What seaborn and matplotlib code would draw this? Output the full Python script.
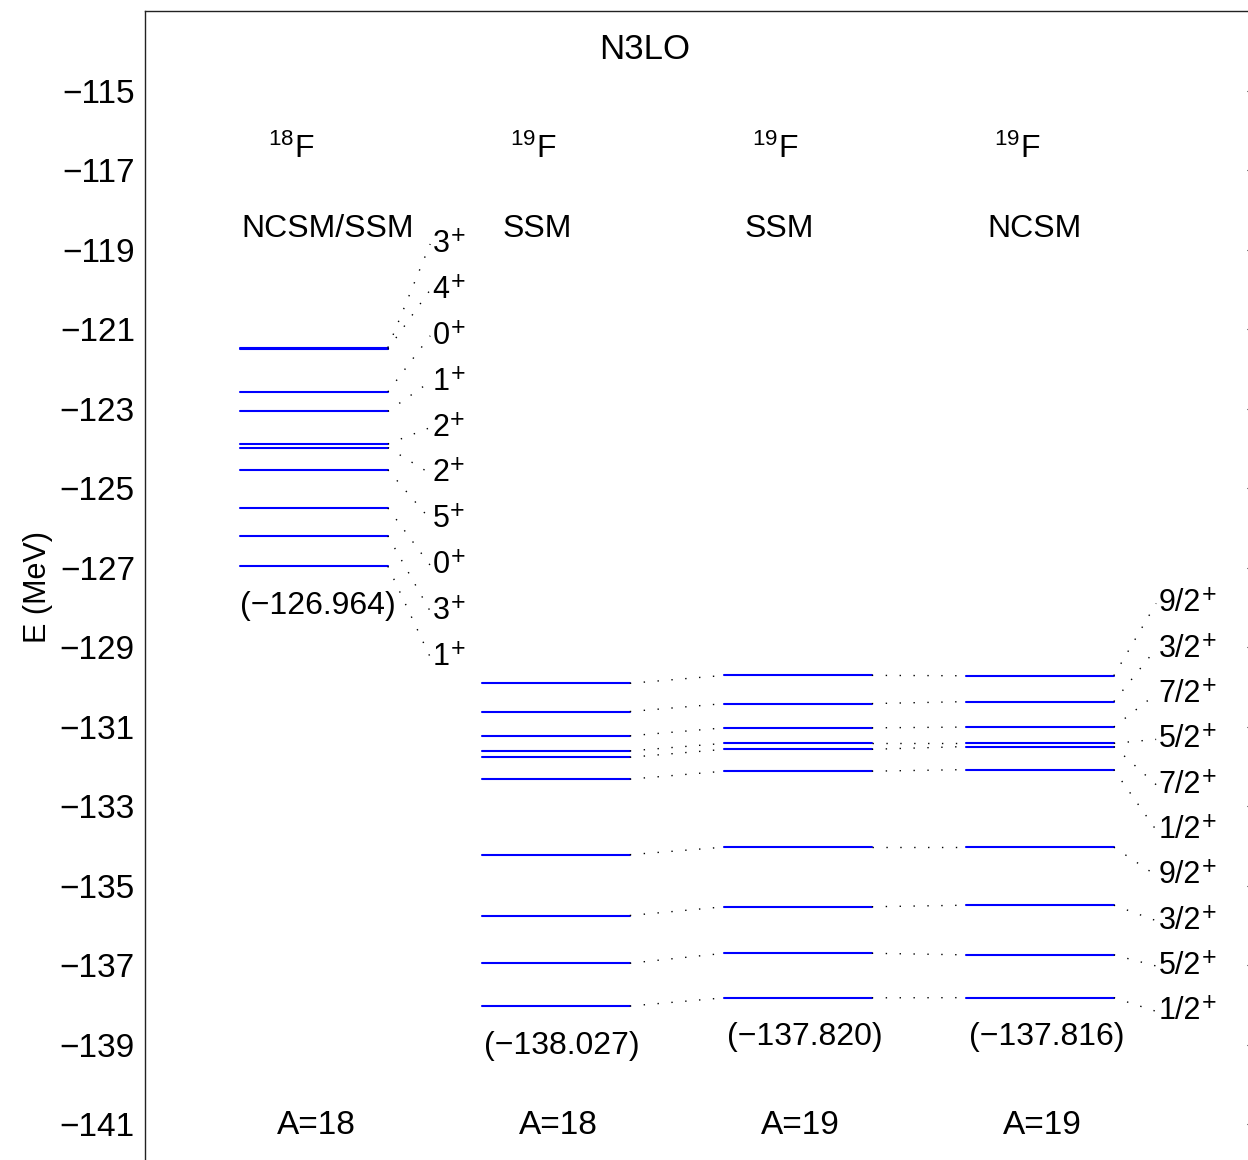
import numpy as np
import pandas as pd
import matplotlib
matplotlib.use('Agg')
import matplotlib.pyplot as plt
import seaborn as sns

# Energieniveaus (MeV) je Spalte, von oben nach unten
e_18f = [-121.47, -121.51, -122.58, -123.07, -123.89, -123.98, -124.54, -125.50, -126.20, -126.964]
e_19f_ssm_a18 = [-129.91, -130.62, -131.23, -131.61, -131.77, -132.32, -134.22, -135.75, -136.95, -138.027]
e_19f_ssm_a19 = [-129.71, -130.42, -131.03, -131.42, -131.57, -132.12, -134.03, -135.53, -136.70, -137.820]
e_19f_ncsm = [-129.72, -130.37, -131.01, -131.42, -131.50, -132.08, -134.03, -135.49, -136.74, -137.816]

spins_18f = ['3', '4', '0', '1', '2', '2', '5', '0', '3', '1']
spins_19f = ['9/2', '3/2', '7/2', '5/2', '7/2', '1/2', '9/2', '3/2', '5/2', '1/2']

nuclei = ['18', '19', '19', '19']
methods = ['NCSM/SSM', 'SSM', 'SSM', 'NCSM']
mass_labels = ['A=18', 'A=18', 'A=19', 'A=19']
ground = ['(\u2212126.964)', '(\u2212138.027)', '(\u2212137.820)', '(\u2212137.816)']

columns = [e_18f, e_19f_ssm_a18, e_19f_ssm_a19, e_19f_ncsm]

sns.set_theme(style='white')
plt.rcParams['font.family'] = ['Liberation Sans', 'DejaVu Sans']
plt.rcParams['mathtext.default'] = 'regular'
plt.rcParams['text.color'] = 'black'
plt.rcParams['axes.labelcolor'] = 'black'

fig = plt.figure(figsize=(12.48, 11.6), dpi=100)
ax = fig.add_axes([0.1159, -0.00345, 0.8929, 0.99397])

# Segmente fuer seaborn aufbauen
x0, x1 = 0.395, 1.005
rows = []
for i, col in enumerate(columns):
    for j, e in enumerate(col):
        rows.append({'x': i + x0, 'E': e, 'id': f'{i}-{j}'})
        rows.append({'x': i + x1, 'E': e, 'id': f'{i}-{j}'})
df = pd.DataFrame(rows)
sns.lineplot(data=df, x='x', y='E', units='id', estimator=None, sort=False,
             color='blue', lw=1.5, ax=ax)

dots = dict(color='black', lw=1.0, linestyle=(0, (1, 9)))

# Verbindungen zwischen den Spalten
for i in range(1, 3):
    for a, b in zip(columns[i], columns[i + 1]):
        ax.plot([i + x1, i + 1 + x0], [a, b], **dots)


def spin_label(x, y, s):
    t = ax.text(x, y, s, fontsize=22, ha='left', va='center')
    ax.annotate('+', xy=(1, 1), xycoords=t, xytext=(0.5, -5), textcoords='offset points',
                fontsize=18, ha='left', va='center')


# Spin-Beschriftungen links (18F)
lab_left = np.linspace(-118.86, -129.25, len(spins_18f))
for e, yl, s in zip(e_18f, lab_left, spins_18f):
    ax.plot([x1, 1.18], [e, yl], **dots)
    spin_label(1.19, yl, s)

# Spin-Beschriftungen rechts (19F NCSM)
lab_right = np.linspace(-127.90, -138.16, len(spins_19f))
for e, yl, s in zip(e_19f_ncsm, lab_right, spins_19f):
    ax.plot([3 + x1, 4.18], [e, yl], **dots)
    spin_label(4.19, yl, s)

ax.text(2.067, -113.97, 'N3LO', fontsize=25, ha='center', va='center')
for i, n in enumerate(nuclei):
    ax.text(i + 0.605, -116.48, '$^{' + n + '}$F', fontsize=23, ha='center', va='center')
    ax.text(i + 0.71, -141.02, mass_labels[i], fontsize=24, ha='center', va='center')
method_x = [0.757, 1.621, 2.621, 3.679]
for xm, m in zip(method_x, methods):
    ax.text(xm, -118.49, m, fontsize=23, ha='center', va='center')
ground_pos = [(0.716, -127.97), (1.724, -139.04), (2.728, -138.81), (3.729, -138.81)]
for (xg, yg), g in zip(ground_pos, ground):
    ax.text(xg, yg, g, fontsize=23, ha='center', va='center')

ax.set_xlim(0, 4.605)
ax.set_ylim(-142, -113)
ax.set_yticks(np.arange(-141, -114, 2))
ax.set_yticklabels([f'\u2212{abs(t)}' for t in range(-141, -114, 2)])
ax.set_xticks([])
ax.set_xlabel('')
ax.set_ylabel('E (MeV)', fontsize=22, labelpad=5)
ax.tick_params(axis='y', direction='in', length=9, width=0.8, right=True,
               labelsize=24, pad=7, colors='black')
for sp in ax.spines.values():
    sp.set_color('#222222')
    sp.set_linewidth(1.0)

fig.savefig('out.png', dpi=100)
